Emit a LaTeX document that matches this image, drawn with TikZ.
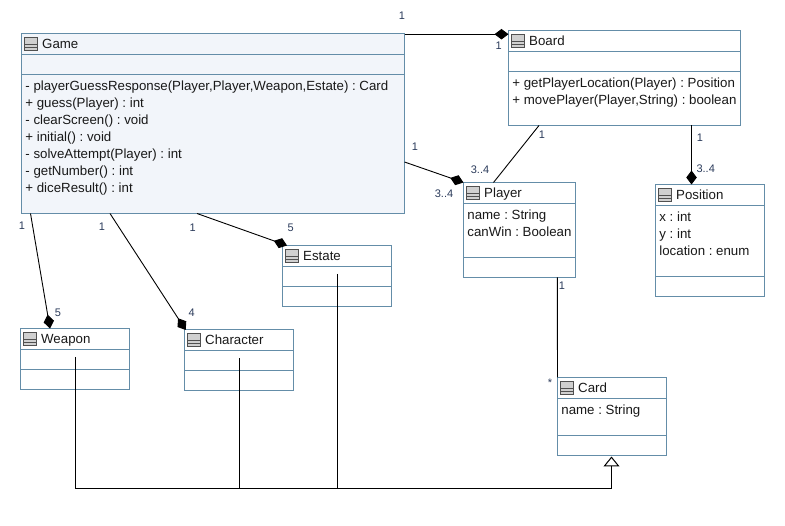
\documentclass[tikz,border=0pt]{standalone}
\usepackage{fontspec}
\setmainfont{Liberation Sans}
\usetikzlibrary{arrows.meta}
\frenchspacing
\definecolor{umlborder}{HTML}{648DA8}
\definecolor{gamefill}{HTML}{F2F5FA}
\definecolor{iconfill}{HTML}{D0D0D0}
\definecolor{iconline}{HTML}{505050}
\definecolor{multcol}{HTML}{2A3A5A}
\tikzset{
  umlbox/.style={draw=umlborder,line width=1pt,inner sep=0pt,outer sep=0pt,anchor=north west,fill=white},
  divider/.style={draw=umlborder,line width=1pt},
  icon/.style={draw=iconline,fill=iconfill,line width=0.9pt},
  iconrule/.style={draw=iconline,line width=0.8pt},
  titletext/.style={anchor=base west,inner sep=0pt,font=\fontsize{13.28}{15}\selectfont,text=black!90},
  membertext/.style={anchor=base west,inner sep=0pt,font=\fontsize{13.28}{15}\selectfont,text=black!90},
  mult/.style={inner sep=0pt,font=\fontsize{11}{13}\selectfont,text=multcol},
  assoc/.style={draw=black,line width=0.9pt},
  compose/.style={assoc,-{Diamond[length=14pt,width=10.5pt]}},
  inherit/.style={draw=black,line width=1pt,-{Triangle[open,length=10pt,width=16pt,fill=white]}},
  busline/.style={draw=black,line width=1pt}
}
% name, left, top, width, height, divider 1 offset, divider 2 offset, title, box options
\newcommand{\umlclass}[9]{%
  \node[umlbox,minimum width=#4pt,minimum height=#5pt,#9] (#1) at (#2,#3) {};
  \draw[divider] ([yshift=-#6pt]#1.north west) -- ([yshift=-#6pt]#1.north east);
  \draw[divider] ([yshift=-#7pt]#1.north west) -- ([yshift=-#7pt]#1.north east);
  \draw[icon] ([xshift=3pt,yshift=-4pt]#1.north west) rectangle ([xshift=15.5pt,yshift=-17pt]#1.north west);
  \draw[iconrule] ([xshift=3pt,yshift=-10.7pt]#1.north west) -- ([xshift=15.5pt,yshift=-10.7pt]#1.north west);
  \draw[iconrule] ([xshift=3pt,yshift=-14pt]#1.north west) -- ([xshift=15.5pt,yshift=-14pt]#1.north west);
  \node[titletext] (#1title) at ([xshift=20.5pt,yshift=-14.8pt]#1.north west) {#8};
}
% node name, owner, offset down, text
\newcommand{\umlmember}[4]{%
  \node[membertext] (#1) at ([xshift=3.7pt,yshift=-#3pt]#2.north west) {#4};
}
\begin{document}
\begin{tikzpicture}[x=1pt,y=-1pt]
\useasboundingbox (0,0) rectangle (785,526);

\umlclass{game}{21.5}{33.5}{383}{180}{21}{41}{Game}{fill=gamefill}
\umlclass{board}{508.5}{30.5}{232}{95}{21}{41}{Board}{}
\umlclass{player}{463.5}{182.5}{112}{95}{21}{75}{Player}{}
\umlclass{position}{655.5}{184.5}{109}{112}{21}{92}{Position}{}
\umlclass{estate}{282.5}{245.5}{109}{61}{21}{41}{Estate}{}
\umlclass{weapon}{20.5}{328.5}{109}{61}{21}{41}{Weapon}{}
\umlclass{character}{184.5}{329.5}{109}{61}{21}{41}{Character}{}
\umlclass{card}{557.5}{377.5}{109}{78}{21}{58}{Card}{}

\umlmember{g1}{game}{57.3}{- playerGuessResponse(Player,Player,Weapon,Estate) : Card}
\umlmember{g2}{game}{74.3}{+ guess(Player) : int}
\umlmember{g3}{game}{91.3}{- clearScreen() : void}
\umlmember{g4}{game}{108.4}{+ initial() : void}
\umlmember{g5}{game}{125.4}{- solveAttempt(Player) : int}
\umlmember{g6}{game}{142.5}{- getNumber() : int}
\umlmember{g7}{game}{159.5}{+ diceResult() : int}
\umlmember{b1}{board}{57.3}{+ getPlayerLocation(Player) : Position}
\umlmember{b2}{board}{74.3}{+ movePlayer(Player,String) : boolean}
\umlmember{p1}{player}{37.3}{name : String}
\umlmember{p2}{player}{54.3}{canWin : Boolean}
\umlmember{q1}{position}{37.3}{x : int}
\umlmember{q2}{position}{54.3}{y : int}
\umlmember{q3}{position}{71.3}{location : enum}
\umlmember{c1}{card}{37.3}{name : String}

\draw[compose] ([yshift=-0.7pt]game.north east) -- ([yshift=-3.7pt]board.north west);
\draw[compose] ([yshift=-128.5pt]game.north east) -- (player.north west);
\draw[compose] ([xshift=175.5pt]game.south west) -- ([xshift=4.5pt]estate.north west);
\draw[compose] ([xshift=88.5pt]game.south west) -- ([xshift=1.2pt,yshift=-0.5pt]character.north west);
\draw[compose] ([xshift=9pt]game.south west) -- ([xshift=29.5pt]weapon.north west);
\draw[assoc] ([xshift=30.5pt]board.south west) -- ([xshift=30pt]player.north west);
\draw[compose] ([xshift=183pt]board.south west) -- ([xshift=36pt]position.north west);
\draw[assoc] ([xshift=93.8pt]player.south west) -- (card.north west);

\coordinate (busend) at (611.5,488.5);
\draw[busline] ([xshift=0.5pt,yshift=2pt]weapon.center) |- (busend);
\draw[busline] ([xshift=0.5pt,yshift=1.5pt]character.center) -- ([xshift=0.5pt]character.center |- busend);
\draw[busline] ([xshift=0.5pt,yshift=2pt]estate.center) -- ([xshift=0.5pt]estate.center |- busend);
\draw[inherit] (busend) -- ([xshift=54pt,yshift=-1pt]card.south west);

\node[mult] (m1) at (402,16) {1};
\node[mult] (m2) at (498.7,46) {1};
\node[mult] (m3) at (415,147) {1};
\node[mult] (m4) at (444,194) {3..4};
\node[mult] (m5) at (480,170) {3..4};
\node[mult] (m6) at (542,135) {1};
\node[mult] (m7) at (700,138) {1};
\node[mult] (m8) at (705.7,169) {3..4};
\node[mult] (m9) at (562,286) {1};
\node[mult] (m10) at (550,383) {*};
\node[mult] (m11) at (22,226) {1};
\node[mult] (m12) at (102,227) {1};
\node[mult] (m13) at (192.7,228) {1};
\node[mult] (m14) at (290.7,228) {5};
\node[mult] (m15) at (58,313) {5};
\node[mult] (m16) at (191.7,313) {4};
\end{tikzpicture}
\end{document}
